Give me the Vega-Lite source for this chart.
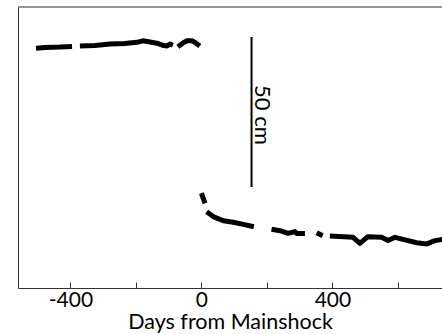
{
  "$schema": "https://vega.github.io/schema/vega-lite/v6.json",
  "width": 424,
  "height": 281,
  "autosize": {"type": "none"},
  "padding": {"left": 18, "top": 7, "right": 0, "bottom": 46},
  "background": "white",
  "config": {"view": {"stroke": null}, "font": "Lato"},
  "datasets": {
    "series": [
      {"seg": "a", "day": -505, "cm": 79.9},
      {"seg": "a", "day": -478, "cm": 80.2},
      {"seg": "a", "day": -432, "cm": 80.3},
      {"seg": "a", "day": -395, "cm": 80.5},
      {"seg": "b", "day": -371, "cm": 80.7},
      {"seg": "b", "day": -325, "cm": 80.8},
      {"seg": "b", "day": -279, "cm": 81.3},
      {"seg": "b", "day": -234, "cm": 81.5},
      {"seg": "b", "day": -197, "cm": 81.9},
      {"seg": "b", "day": -179, "cm": 82.4},
      {"seg": "b", "day": -157, "cm": 82.0},
      {"seg": "b", "day": -136, "cm": 81.6},
      {"seg": "b", "day": -115, "cm": 80.8},
      {"seg": "b", "day": -105, "cm": 80.7},
      {"seg": "b", "day": -96, "cm": 81.3},
      {"seg": "b", "day": -87, "cm": 80.9},
      {"seg": "c", "day": -72, "cm": 80.4},
      {"seg": "c", "day": -56, "cm": 81.7},
      {"seg": "c", "day": -44, "cm": 82.4},
      {"seg": "c", "day": -29, "cm": 82.4},
      {"seg": "c", "day": -17, "cm": 81.7},
      {"seg": "c", "day": -5, "cm": 80.7},
      {"seg": "d", "day": 0, "cm": 31.6},
      {"seg": "d", "day": 11, "cm": 28.2},
      {"seg": "e", "day": 16, "cm": 25.4},
      {"seg": "e", "day": 36, "cm": 23.8},
      {"seg": "e", "day": 67, "cm": 22.4},
      {"seg": "e", "day": 97, "cm": 21.9},
      {"seg": "e", "day": 128, "cm": 21.2},
      {"seg": "e", "day": 160, "cm": 20.4},
      {"seg": "f", "day": 214, "cm": 19.6},
      {"seg": "f", "day": 240, "cm": 19.1},
      {"seg": "f", "day": 265, "cm": 18.2},
      {"seg": "f", "day": 285, "cm": 18.8},
      {"seg": "f", "day": 291, "cm": 18.2},
      {"seg": "f", "day": 316, "cm": 18.2},
      {"seg": "g", "day": 352, "cm": 18.4},
      {"seg": "g", "day": 370, "cm": 17.4},
      {"seg": "h", "day": 392, "cm": 17.3},
      {"seg": "h", "day": 463, "cm": 16.9},
      {"seg": "h", "day": 484, "cm": 14.9},
      {"seg": "h", "day": 508, "cm": 17.1},
      {"seg": "h", "day": 550, "cm": 16.9},
      {"seg": "h", "day": 570, "cm": 15.8},
      {"seg": "h", "day": 591, "cm": 16.9},
      {"seg": "h", "day": 616, "cm": 16.2},
      {"seg": "h", "day": 657, "cm": 15.1},
      {"seg": "h", "day": 688, "cm": 14.7},
      {"seg": "h", "day": 713, "cm": 15.8},
      {"seg": "h", "day": 737, "cm": 16.2},
      {"seg": "h", "day": 760, "cm": 16.0}
    ],
    "bar": [{"day": 153, "lo": 33.67, "hi": 83.67, "mid": 57.7, "tday": 184, "label": "50 cm"}]
  },
  "layer": [
    {
      "data": {"name": "series"},
      "mark": {"type": "line", "color": "black", "strokeWidth": 5, "strokeJoin": "round", "clip": true},
      "encoding": {
        "x": {
          "field": "day", "type": "quantitative",
          "scale": {"domain": [-560, 734.5], "nice": false, "zero": false},
          "axis": {
            "orient": "bottom",
            "values": [-400, -200, 0, 200, 400, 600],
            "labelExpr": "datum.value % 400 === 0 ? toString(datum.value) : ''",
            "grid": false,
            "domainColor": "#333",
            "tickColor": "#333",
            "tickSize": -6,
            "labelFontSize": 21,
            "labelColor": "black",
            "labelPadding": 7,
            "labelFlush": false,
            "title": "Days from Mainshock",
            "titleFontSize": 21.5,
            "titleFontWeight": "normal",
            "titleColor": "black",
            "titlePadding": 1
          }
        },
        "y": {
          "field": "cm", "type": "quantitative",
          "scale": {"domain": [0, 93.67], "nice": false, "zero": false},
          "axis": {"labels": false, "ticks": false, "grid": false, "title": null, "domainColor": "#333"}
        },
        "detail": {"field": "seg"}
      }
    },
    {
      "data": {"name": "bar"},
      "mark": {"type": "rule", "color": "#333", "strokeWidth": 1},
      "encoding": {
        "y": {"datum": 93.67, "type": "quantitative"}
      }
    },
    {
      "data": {"name": "bar"},
      "mark": {"type": "rule", "color": "black", "strokeWidth": 2},
      "encoding": {
        "x": {"field": "day", "type": "quantitative"},
        "y": {"field": "lo", "type": "quantitative"},
        "y2": {"field": "hi"}
      }
    },
    {
      "data": {"name": "bar"},
      "mark": {"type": "text", "angle": 90, "align": "center", "baseline": "middle", "fontSize": 22, "color": "black"},
      "encoding": {
        "x": {"field": "tday", "type": "quantitative"},
        "y": {"field": "mid", "type": "quantitative"},
        "text": {"field": "label"}
      }
    }
  ]
}
